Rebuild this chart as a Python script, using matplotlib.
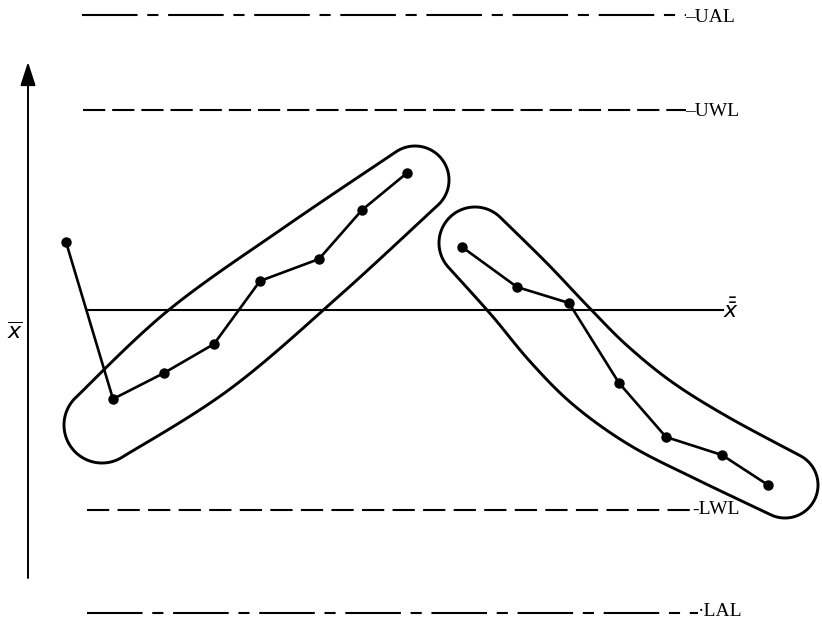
import matplotlib.pyplot as plt
import numpy as np

plt.rcParams['lines.scale_dashes'] = False

# chart is drawn in the picture's own units (x to the right, y downward)
W, H = 822, 627

# subgroup means, first point plus a rising run
run1_x = [66, 113, 164, 214, 260, 319, 362, 407]
run1_y = [242, 399, 373, 344, 281, 259, 210, 173]
# falling run
run2_x = [462, 517, 569, 619, 666, 722, 768]
run2_y = [247, 287, 303, 383, 437, 455, 485]

# control lines
grand_mean = 310
uwl, lwl = 110, 510
ual, lal = 15, 613

# loops round the runs: centre line and half width
loop1_x = [102, 200, 310, 415]
loop1_y = [425, 349, 263, 180]
loop1_w = [38, 50, 44, 34]
loop2_x = [475, 520, 560, 600, 650, 710, 785]
loop2_y = [243, 290, 335, 375, 413, 447, 485]
loop2_w = [36, 38, 40, 40, 38, 35, 33]


def centre_line(xs, ys, ws, n=40):
    # smooth centre line through the given points (catmull-rom)
    p = np.column_stack([xs, ys, ws]).astype(float)
    q = np.vstack([p[0], p, p[-1]])
    t = np.linspace(0, 1, n, endpoint=False)[:, None]
    segs = []
    for i in range(1, len(q) - 2):
        p0, p1, p2, p3 = q[i - 1], q[i], q[i + 1], q[i + 2]
        segs.append(0.5 * ((2 * p1) + (-p0 + p2) * t + (2 * p0 - 5 * p1 + 4 * p2 - p3) * t ** 2
                           + (-p0 + 3 * p1 - 3 * p2 + p3) * t ** 3))
    return np.vstack(segs + [p[-1:]])


fig = plt.figure(figsize=(W / 100, H / 100), dpi=100)
ax = fig.add_axes([0, 0, 1, 1])

serif = 'Liberation Serif'
lab = dict(fontsize=14, family=serif, va='center', ha='left')

# y axis with arrow
ax.annotate('', xy=(28, 62), xytext=(28, 578),
            arrowprops=dict(arrowstyle='-|>,head_length=0.8,head_width=0.26',
                            lw=1.4, color='black', mutation_scale=18,
                            shrinkA=0, shrinkB=0))
ax.text(15, 332, r'$\overline{x}$', fontsize=16, ha='center', va='center')

# action and warning limits
ax.plot([82, 686], [ual, ual], color='black', lw=1.5, dashes=[40, 7, 8, 7])
ax.text(685, ual + 3, '–UAL', **lab)
ax.plot([83, 686], [uwl, uwl], color='black', lw=1.5, dashes=[16, 5])
ax.text(685, uwl + 1, '–UWL', **lab)
ax.plot([88, 723], [grand_mean, grand_mean], color='black', lw=1.5)
ax.text(723, grand_mean, r'$\bar{\bar{x}}$', fontsize=16, ha='left', va='center')
ax.plot([87, 692], [lwl, lwl], color='black', lw=1.5, dashes=[16, 6])
ax.text(692, lwl - 1, '-LWL', **lab)
ax.plot([87, 698], [lal, lal], color='black', lw=1.5, dashes=[40, 7, 8, 7])
ax.text(698, lal - 2, '·LAL', **lab)

# loops round the runs: edge of the union of discs along each centre line
gx, gy = np.meshgrid(np.arange(0, W, 1.5), np.arange(0, H, 1.5))
for lx, ly, lw_ in [(loop1_x, loop1_y, loop1_w), (loop2_x, loop2_y, loop2_w)]:
    c = centre_line(lx, ly, lw_)
    f = np.full(gx.shape, np.inf)
    for cx, cy, r in c:
        f = np.minimum(f, np.hypot(gx - cx, gy - cy) - r)
    ax.contour(gx, gy, f, levels=[0], colors='black', linewidths=2.1)

# the two sequences of points
ax.plot(run1_x, run1_y, color='black', lw=1.9, marker='o', markersize=6.5)
ax.plot(run2_x, run2_y, color='black', lw=1.9, marker='o', markersize=6.5)

ax.set_xlim(0, W)
ax.set_ylim(H, 0)
ax.axis('off')

fig.savefig('out.png', dpi=100)
